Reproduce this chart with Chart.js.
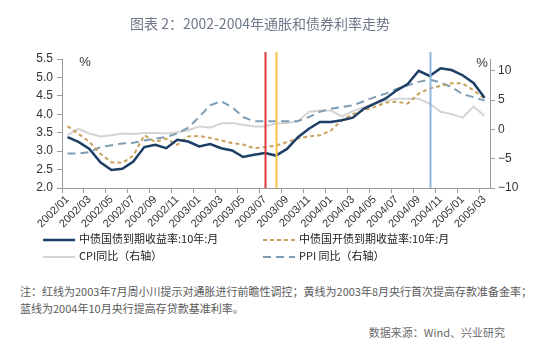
<!DOCTYPE html>
<html><head><meta charset="utf-8">
<script src="https://cdn.jsdelivr.net/npm/chart.js@4/dist/chart.umd.min.js"></script>
<style>
html,body{margin:0;padding:0;background:#fff;}
body{width:554px;height:352px;position:relative;overflow:hidden;font-family:"Noto Sans CJK SC","Noto Sans",sans-serif;}
#c{position:absolute;left:0;top:0;}
.t{position:absolute;white-space:nowrap;}
#title{left:0;width:520px;top:13px;text-align:center;font-size:14px;color:#6e7889;}
.lg{position:absolute;font-size:11px;color:#222;white-space:nowrap;line-height:14px;}
.lg svg{vertical-align:middle;margin-right:4px;}
#note{left:20px;top:283px;font-size:11px;color:#5a5a5a;line-height:17px;}
#src{right:49px;top:324px;font-size:11px;color:#6a6a6a;}
</style></head>
<body>
<canvas id="c" width="554" height="232"></canvas>
<div id="title" class="t">图表 2：2002-2004年通胀和债券利率走势</div>
<div class="lg" style="left:43px;top:231px"><svg width="32" height="6"><line x1="0" y1="3" x2="32" y2="3" stroke="#1d3f66" stroke-width="2.5"/></svg>中债国债到期收益率:10年:月</div>
<div class="lg" style="left:263px;top:231px"><svg width="32" height="6"><line x1="0" y1="3" x2="32" y2="3" stroke="#c9a260" stroke-width="2" stroke-dasharray="4,3"/></svg>中债国开债到期收益率:10年:月</div>
<div class="lg" style="left:43px;top:248px"><svg width="32" height="6"><line x1="0" y1="3" x2="32" y2="3" stroke="#d4d4d4" stroke-width="2"/></svg>CPI同比（右轴）</div>
<div class="lg" style="left:263px;top:248px"><svg width="32" height="6"><line x1="0" y1="3" x2="32" y2="3" stroke="#7e9db4" stroke-width="2" stroke-dasharray="8,5"/></svg>PPI 同比（右轴）</div>
<div id="note" class="t">注：红线为2003年7月周小川提示对通胀进行前瞻性调控；黄线为2003年8月央行首次提高存款准备金率；<br>蓝线为2004年10月央行提高存贷款基准利率。</div>
<div id="src" class="t">数据来源：Wind、兴业研究</div>
<script>
const months = [
 "2002/01","2002/02","2002/03","2002/04","2002/05","2002/06","2002/07","2002/08","2002/09","2002/10","2002/11","2002/12",
 "2003/01","2003/02","2003/03","2003/04","2003/05","2003/06","2003/07","2003/08","2003/09","2003/10","2003/11","2003/12",
 "2004/01","2004/02","2004/03","2004/04","2004/05","2004/06","2004/07","2004/08","2004/09","2004/10","2004/11","2004/12",
 "2005/01","2005/02","2005/03"];
const govBond10Y = [3.38,3.25,3.06,2.70,2.49,2.52,2.72,3.11,3.17,3.08,3.31,3.26,
 3.13,3.19,3.08,3.02,2.84,2.90,2.95,2.88,3.06,3.38,3.61,3.79,
 3.79,3.84,3.91,4.15,4.29,4.43,4.65,4.82,5.18,5.04,5.25,5.20,
 5.06,4.85,4.45];
const cdbBond10Y = [3.68,3.47,3.25,2.93,2.70,2.68,2.88,3.43,3.25,3.34,3.17,3.40,
 3.41,3.36,3.29,3.22,3.18,3.08,3.11,3.15,3.25,3.34,3.40,3.43,
 3.56,3.84,4.00,4.11,4.20,4.32,4.34,4.29,4.56,4.70,4.77,4.84,
 4.84,4.65,4.43];
const cpiYoY = [-1.0,0.1,-0.7,-1.2,-1.0,-0.7,-0.8,-0.6,-0.6,-0.7,-0.5,-0.2,
 0.5,0.3,1.0,1.1,0.8,0.5,0.5,1.0,1.1,1.4,3.0,3.2,
 3.2,2.2,3.1,3.8,4.5,4.9,5.2,5.2,5.2,4.4,3.0,2.6,
 2.0,3.9,2.3];
const ppiYoY = [-4.1,-4.1,-3.9,-3.0,-2.7,-2.4,-2.3,-1.9,-1.6,-1.3,-0.7,0.3,
 2.1,4.1,4.8,3.8,2.1,1.4,1.4,1.4,1.4,1.4,2.1,3.0,
 3.5,3.8,4.1,4.8,5.5,6.1,6.9,7.5,8.1,8.5,8.0,7.2,
 6.0,5.5,4.9];
const leftTicks = [2.0,2.5,3.0,3.5,4.0,4.5,5.0,5.5];
const rightTicks = [-10,-5,0,5,10];
const eventMonths = ["2003/07","2003/08","2004/10"];
const eventColors = ["#e0393a","#f6c445","#8db6da"];

const overlay = {
  id:'overlay',
  afterDatasetsDraw(chart){
    const {ctx, chartArea, scales} = chart;
    ctx.save();
    eventMonths.forEach((m,k)=>{
      const x = Math.round(scales.x.getPixelForValue(months.indexOf(m)))+0.5;
      ctx.strokeStyle = eventColors[k]; ctx.lineWidth = 2;
      ctx.beginPath(); ctx.moveTo(x, chartArea.top-7); ctx.lineTo(x, chartArea.bottom); ctx.stroke();
    });
    ctx.fillStyle = '#333'; ctx.font = '13px "Liberation Sans", Arial, sans-serif';
    ctx.textAlign='center'; ctx.textBaseline='middle';
    ctx.fillText('%', chartArea.left+23, chartArea.top+3);
    ctx.fillText('%', chartArea.right-8, chartArea.top+4);
    ctx.restore();
  }
};

const axisColor = '#9a9a9a';
new Chart(document.getElementById('c'), {
  type:'line',
  data:{
    labels: months,
    datasets:[
      {label:'中债国债到期收益率:10年:月', data:govBond10Y, yAxisID:'y', borderColor:'#1d3f66', borderWidth:2.5, pointRadius:0, tension:0},
      {label:'中债国开债到期收益率:10年:月', data:cdbBond10Y, yAxisID:'y', borderColor:'#c9a260', borderWidth:2, borderDash:[4,3], pointRadius:0, tension:0},
      {label:'PPI 同比（右轴）', data:ppiYoY, yAxisID:'y1', borderColor:'#7e9db4', borderWidth:2, borderDash:[8,5], pointRadius:0, tension:0},
      {label:'CPI同比（右轴）', data:cpiYoY, yAxisID:'y1', borderColor:'#d4d4d4', borderWidth:2, pointRadius:0, tension:0}
    ]
  },
  options:{
    responsive:false, animation:false, devicePixelRatio:1,
    layout:{padding:{top:59,left:0,right:0,bottom:0}},
    plugins:{legend:{display:false}, tooltip:{enabled:false}},
    scales:{
      x:{
        offset:true,
        grid:{offset:true, drawOnChartArea:false, tickLength:5, color:(c)=> (c.index!==undefined && c.index%2===0) ? axisColor : 'rgba(0,0,0,0)'},
        border:{color:axisColor, width:1},
        ticks:{autoSkip:false, maxRotation:45, minRotation:45, padding:0, color:'#333',
          font:{size:11, family:'"Liberation Sans", Arial, sans-serif'},
          callback:(v,i)=> i%2===0 ? months[i] : ''},
        afterFit:(s)=>{ s.height = 44; }
      },
      y:{
        position:'left', min:2, max:5.5,
        afterBuildTicks:(s)=>{ s.ticks = leftTicks.map(v=>({value:v})); },
        grid:{drawOnChartArea:false, tickLength:5, color:axisColor},
        border:{color:axisColor, width:1},
        ticks:{padding:4, color:'#333', font:{size:12, family:'"Liberation Sans", Arial, sans-serif'}, callback:(v)=>Number(v).toFixed(1)},
        afterFit:(s)=>{ s.width = 62; }
      },
      y1:{
        position:'right', min:-10, max:12,
        afterBuildTicks:(s)=>{ s.ticks = rightTicks.map(v=>({value:v})); },
        grid:{drawOnChartArea:false, tickLength:5, color:axisColor},
        border:{color:axisColor, width:1},
        ticks:{padding:3, color:'#333', font:{size:12, family:'"Liberation Sans", Arial, sans-serif'}, callback:(v)=> v<0 ? '\u2212'+Math.abs(v) : String(v)},
        afterFit:(s)=>{ s.width = 64; }
      }
    }
  },
  plugins:[overlay]
});
</script>
</body></html>
